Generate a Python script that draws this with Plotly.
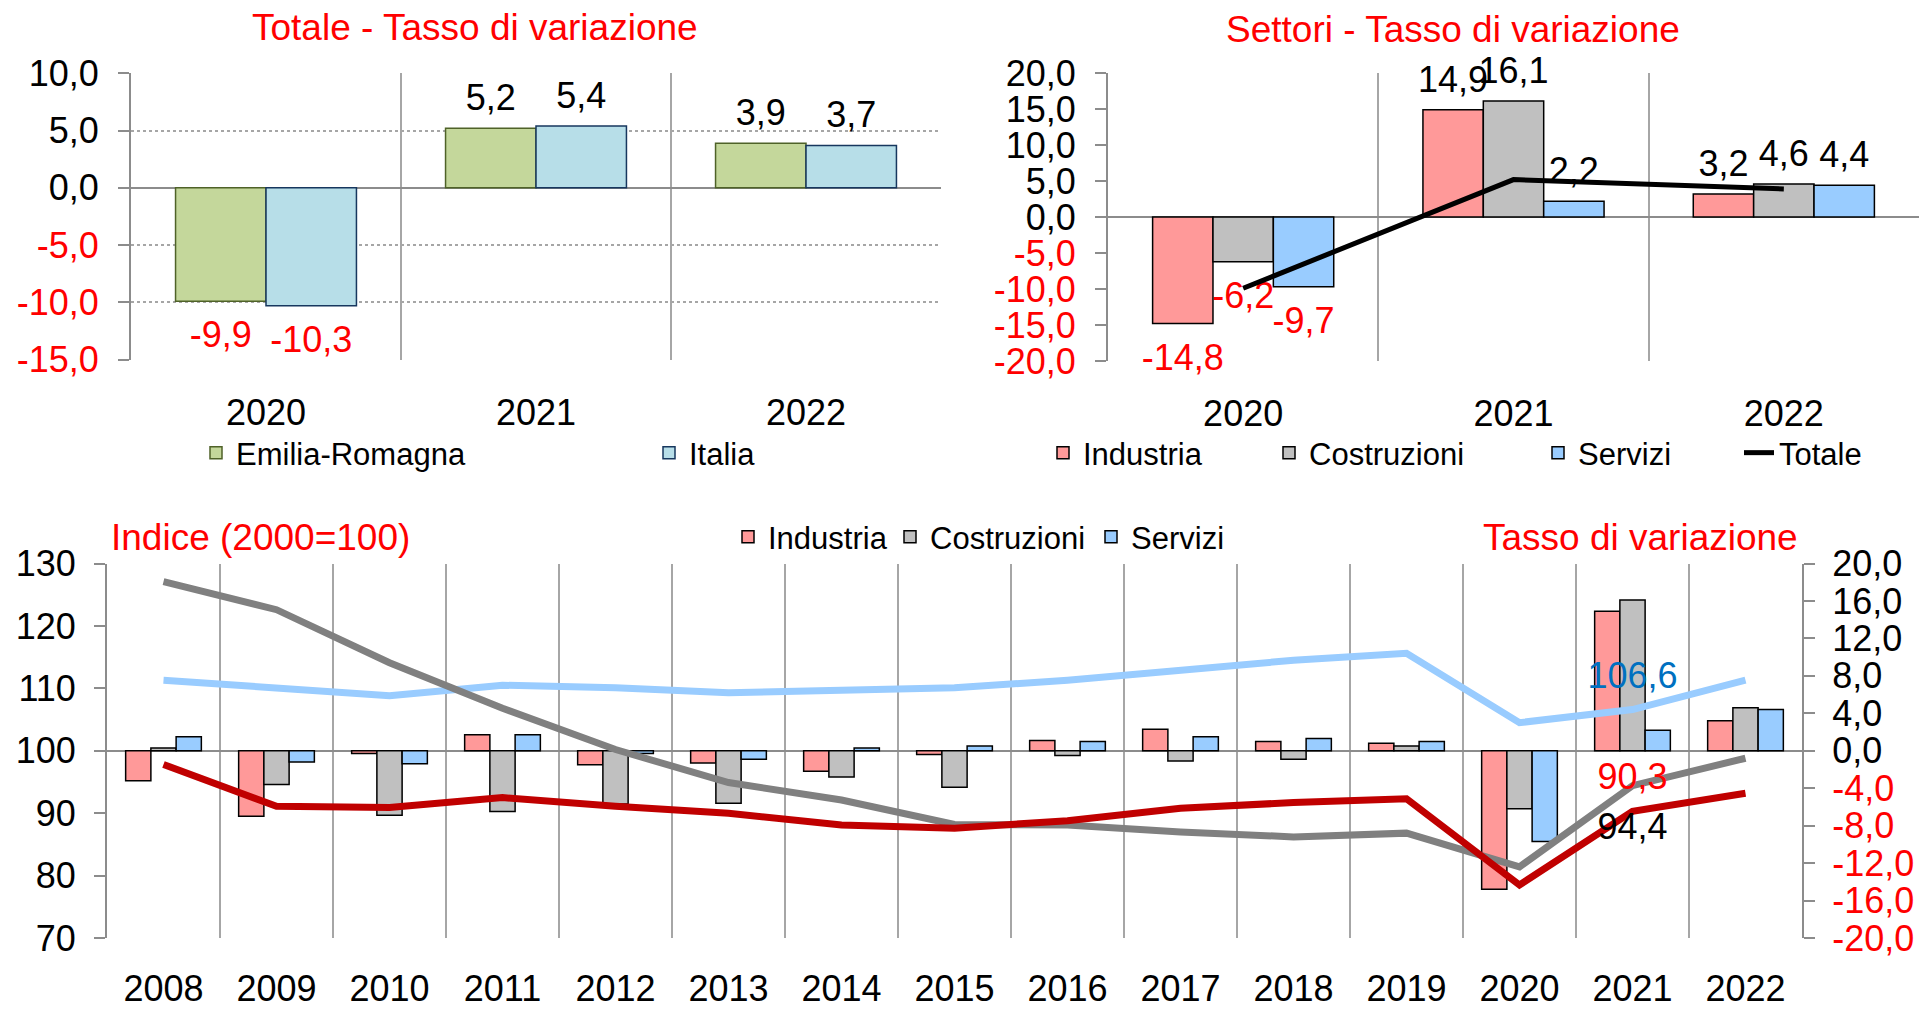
import plotly.graph_objects as go

W, H = 1919, 1009
FONT = "Arial, 'Liberation Sans', sans-serif"
RED = "#FF0000"

# ---------------- DATA ----------------
years_top = ["2020", "2021", "2022"]
tot_emilia = [-9.9, 5.2, 3.9]
tot_italia = [-10.3, 5.4, 3.7]

set_industria = [-14.8, 14.9, 3.2]
set_costruzioni = [-6.2, 16.1, 4.6]
set_servizi = [-9.7, 2.2, 4.4]
set_totale = [-9.9, 5.2, 3.9]

years_bottom = ["2008", "2009", "2010", "2011", "2012", "2013", "2014", "2015",
                "2016", "2017", "2018", "2019", "2020", "2021", "2022"]
var_industria = [-3.2, -7.0, -0.3, 1.7, -1.5, -1.3, -2.2, -0.4, 1.1, 2.3, 1.0, 0.8, -14.8, 14.9, 3.2]
var_costruzioni = [0.3, -3.6, -6.9, -6.5, -5.7, -5.6, -2.8, -3.9, -0.5, -1.1, -0.9, 0.5, -6.2, 16.1, 4.6]
var_servizi = [1.5, -1.2, -1.4, 1.7, -0.3, -0.9, 0.3, 0.5, 1.0, 1.5, 1.3, 1.0, -9.7, 2.2, 4.4]
idx_industria = [97.8, 91.1, 90.9, 92.5, 91.1, 90.0, 88.1, 87.6, 88.8, 90.8, 91.7, 92.3, 78.5, 90.3, 93.2]
idx_costruzioni = [127.1, 122.6, 114.1, 106.8, 100.2, 94.9, 92.1, 88.2, 88.1, 87.0, 86.2, 86.8, 81.4, 94.4, 98.8]
idx_servizi = [111.3, 110.0, 108.8, 110.5, 110.1, 109.3, 109.6, 110.1, 111.3, 113.0, 114.5, 115.6, 104.5, 106.6, 111.3]

ticks_tl = [-15, -10, -5, 0, 5, 10]
ticks_tr = [-20, -15, -10, -5, 0, 5, 10, 15, 20]
ticks_b_var = [-20, -16, -12, -8, -4, 0, 4, 8, 12, 16, 20]
ticks_b_idx = [70, 80, 90, 100, 110, 120, 130]


def fmt(v):
    return f"{v:.1f}".replace(".", ",")


def tick_text(vals):
    out = []
    for v in vals:
        s = fmt(v)
        out.append(f'<span style="color:{RED}">{s}</span>' if v < 0 else s)
    return out


fig = go.Figure()
TRANSP = "rgba(0,0,0,0)"


def bar(x, y, name, fill, line, xa, ya, legend, group, lw=None):
    fig.add_trace(go.Bar(
        x=x, y=y, name=name, xaxis=xa, yaxis=ya, legend=legend,
        marker=dict(color=fill, line=dict(color=line, width=1.5)),
        offsetgroup=group, legendwidth=lw, hoverinfo="skip",
    ))


def bar_labels(x, y, xa, ya, group):
    # data labels: above positive bars (black), below negative bars (red)
    fig.add_trace(go.Scatter(
        x=x, y=y, xaxis=xa, yaxis=ya, mode="markers+text", showlegend=False,
        text=[fmt(v) for v in y],
        textposition=["bottom center" if v < 0 else "top center" for v in y],
        textfont=dict(size=36, family=FONT, color=[RED if v < 0 else "black" for v in y]),
        marker=dict(size=[29 if v < 0 else 13 for v in y], color=TRANSP, opacity=0),
        offsetgroup=group, cliponaxis=False, hoverinfo="skip",
    ))


# Top-left
bar(years_top, tot_emilia, "Emilia-Romagna", "#C4D79B", "#4F6228", "x", "y", "legend", "a", lw=408)
bar(years_top, tot_italia, "Italia", "#B7DEE8", "#17375E", "x", "y", "legend", "b")
bar_labels(years_top, tot_emilia, "x", "y", "a")
bar_labels(years_top, tot_italia, "x", "y", "b")

# Top-right
bar(years_top, set_industria, "Industria", "#FF9999", "black", "x2", "y2", "legend2", "a", lw=181)
bar(years_top, set_costruzioni, "Costruzioni", "#C0C0C0", "black", "x2", "y2", "legend2", "b", lw=224)
bar(years_top, set_servizi, "Servizi", "#99CCFF", "black", "x2", "y2", "legend2", "c", lw=156)
bar_labels(years_top, set_industria, "x2", "y2", "a")
bar_labels(years_top, set_costruzioni, "x2", "y2", "b")
bar_labels(years_top, set_servizi, "x2", "y2", "c")
fig.add_trace(go.Scatter(x=years_top, y=set_totale, name="Totale", mode="lines",
                         line=dict(color="black", width=5), xaxis="x2", yaxis="y2",
                         legend="legend2", offsetgroup="b", cliponaxis=False, hoverinfo="skip"))

# Bottom bars (tasso di variazione)
bar(years_bottom, var_industria, "Industria", "#FF9999", "black", "x3", "y3", "legend3", "a", lw=117)
bar(years_bottom, var_costruzioni, "Costruzioni", "#C0C0C0", "black", "x3", "y3", "legend3", "b", lw=156)
bar(years_bottom, var_servizi, "Servizi", "#99CCFF", "black", "x3", "y3", "legend3", "c")

# Bottom lines (indice 2000=100), centred on the middle bar slot
i21 = years_bottom.index("2021")
lines_bottom = [
    (idx_servizi, "#99CCFF", "#0070C0", "top center", 19),
    (idx_costruzioni, "#808080", "black", "bottom center", 40),
    (idx_industria, "#C00000", RED, "top center", 19),
]
for vals, col, _, _, _ in lines_bottom:
    fig.add_trace(go.Scatter(x=years_bottom, y=vals, mode="lines", showlegend=False,
                             line=dict(color=col, width=7), xaxis="x3", yaxis="y4",
                             offsetgroup="b", cliponaxis=False, hoverinfo="skip"))
for vals, _, tcol, tpos, msize in lines_bottom:
    fig.add_trace(go.Scatter(x=[years_bottom[i21]], y=[vals[i21]], mode="markers+text",
                             text=[fmt(vals[i21])], textposition=tpos, showlegend=False,
                             textfont=dict(size=36, color=tcol, family=FONT),
                             marker=dict(size=msize, color=TRANSP, opacity=0),
                             xaxis="x3", yaxis="y4", offsetgroup="b", cliponaxis=False,
                             hoverinfo="skip"))

AX = "#8C8C8C"
GRID = "#A6A6A6"
tickfont = dict(size=36, color="black", family=FONT)

xcommon = dict(type="category", tickson="boundaries", showgrid=True, gridcolor=GRID,
               gridwidth=1.5, ticks="", ticklen=0, showline=False, zeroline=False,
               tickfont=tickfont, automargin=False, fixedrange=True)
ycommon = dict(showline=True, linecolor=AX, linewidth=2, ticks="outside", ticklen=11,
               tickwidth=2, tickcolor=AX, tickfont=tickfont, automargin=False,
               zerolinecolor=AX, zerolinewidth=2, fixedrange=True)

legcommon = dict(orientation="h", xanchor="left", yanchor="middle", font=dict(size=31),
                 bgcolor=TRANSP, itemwidth=30, traceorder="normal")

fig.update_layout(
    width=W, height=H, margin=dict(l=0, r=0, t=0, b=0),
    paper_bgcolor="white", plot_bgcolor="white",
    font=dict(family=FONT, size=31, color="black"),
    barmode="group", bargap=0.33, scattermode="group",
    xaxis=dict(domain=[131 / W, 941 / W], anchor="y", range=[-0.5, 2.5],
               ticklabelstandoff=28, **xcommon),
    yaxis=dict(domain=[1 - 360 / H, 1 - 73 / H], anchor="x", range=[-15.03, 10.03],
               tickvals=ticks_tl, ticktext=tick_text(ticks_tl),
               showgrid=True, gridcolor=GRID, griddash="dot", gridwidth=1.5,
               zeroline=True, ticklabelstandoff=12, **ycommon),
    xaxis2=dict(domain=[1108 / W, 1.0], anchor="y2", range=[-0.5, 2.5],
                ticklabelstandoff=28, **xcommon),
    yaxis2=dict(domain=[1 - 361 / H, 1 - 73 / H], anchor="x2", range=[-20, 20],
                tickvals=ticks_tr, ticktext=tick_text(ticks_tr),
                showgrid=False, zeroline=True, ticklabelstandoff=12, **ycommon),
    xaxis3=dict(domain=[107 / W, 1802 / W], anchor="y3", range=[-0.5, 14.5],
                ticklabelstandoff=26, **xcommon),
    yaxis3=dict(domain=[1 - 938 / H, 1 - 563.5 / H], anchor="x3", side="right",
                range=[-20, 20], tickvals=ticks_b_var, ticktext=tick_text(ticks_b_var),
                showgrid=False, zeroline=True, ticklabelstandoff=10, **ycommon),
    yaxis4=dict(overlaying="y3", anchor="x3", side="left", range=[70, 130],
                tickvals=ticks_b_idx, ticktext=[str(v) for v in ticks_b_idx],
                showgrid=False, zeroline=False, ticklabelstandoff=11, **ycommon),
    legend=dict(x=196 / W, y=1 - 453 / H, **legcommon),
    legend2=dict(x=1043 / W, y=1 - 453 / H, **legcommon),
    legend3=dict(x=728 / W, y=1 - 537 / H, **legcommon),
    showlegend=True,
)

titles = [
    ("Totale - Tasso di variazione", 475 / W, 1 - 27 / H, "center"),
    ("Settori - Tasso di variazione", 1453 / W, 1 - 29 / H, "center"),
    ("Indice (2000=100)", 109 / W, 1 - 537 / H, "left"),
    ("Tasso di variazione", 1800 / W, 1 - 537 / H, "right"),
]
for txt, x, y, xa in titles:
    fig.add_annotation(text=txt, x=x, y=y, xref="paper", yref="paper", xanchor=xa,
                       yanchor="middle", showarrow=False,
                       font=dict(size=37, color=RED, family=FONT))

fig.write_html("out.html", config={"displayModeBar": False},
               post_script="document.body.style.margin='0';document.body.style.overflow='hidden';")
